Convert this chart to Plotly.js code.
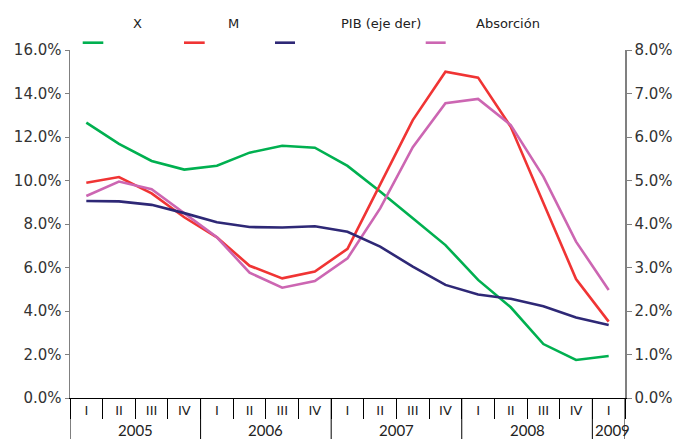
<!DOCTYPE html>
<html>
<head>
<meta charset="utf-8">
<script src="https://cdn.plot.ly/plotly-3.0.1.min.js"></script>
<style>html,body{margin:0;padding:0;background:#fff;}#chart{width:678px;height:439px;}</style>
</head>
<body>
<div id="chart"></div>
<script>
// ---- data ----
var quarters = ['I','II','III','IV','I','II','III','IV','I','II','III','IV','I','II','III','IV','I'];
var quarterYears = ['2005','2005','2005','2005','2006','2006','2006','2006','2007','2007','2007','2007','2008','2008','2008','2008','2009'];
var years = ['2005','2006','2007','2008','2009'];
var seriesX = [12.66, 11.68, 10.9, 10.5, 10.68, 11.28, 11.6, 11.51, 10.67, 9.49, 8.26, 7.03, 5.43, 4.17, 2.48, 1.75, 1.93];
var seriesM = [9.9, 10.16, 9.41, 8.31, 7.39, 6.08, 5.5, 5.81, 6.86, 9.8, 12.78, 15.0, 14.73, 12.47, 9.0, 5.47, 3.51];
var seriesPIB = [4.53, 4.52, 4.44, 4.25, 4.04, 3.93, 3.92, 3.95, 3.82, 3.48, 3.02, 2.60, 2.38, 2.28, 2.11, 1.85, 1.68];
var seriesAbs = [9.29, 9.95, 9.6, 8.49, 7.39, 5.76, 5.07, 5.38, 6.42, 8.72, 11.53, 13.55, 13.75, 12.55, 10.18, 7.19, 4.97];
var legendNames = ['X', 'M', 'PIB (eje der)', 'Absorción'];

// ---- derived ----
var cats = quarters.map(function(q, i){ return quarterYears[i] + ' ' + q; });
var colors = ['rgb(0,176,80)', 'rgb(240,52,52)', 'rgb(46,40,118)', 'rgb(204,102,178)'];

var traces = [
  {x: cats, y: seriesX, name: legendNames[0], type: 'scatter', mode: 'lines', line: {color: colors[0], width: 2.6}},
  {x: cats, y: seriesM, name: legendNames[1], type: 'scatter', mode: 'lines', line: {color: colors[1], width: 2.6}},
  {x: cats, y: seriesPIB, name: legendNames[2], type: 'scatter', mode: 'lines', yaxis: 'y2', line: {color: colors[2], width: 2.6}},
  {x: cats, y: seriesAbs, name: legendNames[3], type: 'scatter', mode: 'lines', line: {color: colors[3], width: 2.6}}
];

var yearStart = years.map(function(y){ return quarterYears.indexOf(y); });
var yearEnd = years.map(function(y){ return quarterYears.lastIndexOf(y); });

var shapes = [];
var annotations = [];
var bounds = [-0.5].concat(yearEnd.map(function(e){ return e + 0.5; }));
bounds.forEach(function(b){
  shapes.push({type: 'line', xref: 'x', yref: 'paper', x0: b, x1: b, y0: 0, y1: -0.125,
               line: {color: '#000', width: 1}});
});
years.forEach(function(y, i){
  annotations.push({xref: 'x', yref: 'paper', x: (yearStart[i] + yearEnd[i]) / 2, y: -0.092,
    xshift: (i === years.length - 1) ? 4 : 0,
    text: y, showarrow: false, xanchor: 'center', yanchor: 'middle',
    font: {family: 'Lato, DejaVu Sans, sans-serif', size: 15, color: '#222'}});
});
var legLines = [[0.0229, 0.060], [0.2054, 0.2427], [0.3694, 0.4054], [0.6409, 0.6769]];
var legText = [0.1213, 0.2942, 0.5604, 0.7883];
legendNames.forEach(function(n, i){
  shapes.push({type: 'line', xref: 'paper', yref: 'paper', x0: legLines[i][0], x1: legLines[i][1],
    y0: 1.021, y1: 1.021, line: {color: colors[i], width: 2.6}});
  annotations.push({xref: 'paper', yref: 'paper', x: legText[i], y: 1.0767, text: n, showarrow: false,
    xanchor: 'center', yanchor: 'middle', font: {family: 'DejaVu Sans, Verdana, sans-serif', size: 13, color: '#222'}});
});

var layout = {
  width: 678, height: 439,
  margin: {l: 70, r: 53, t: 50, b: 41},
  paper_bgcolor: '#fff', plot_bgcolor: '#fff',
  showlegend: false,
  font: {family: 'DejaVu Sans, Verdana, sans-serif', color: '#333'},
  xaxis: {
    type: 'category', range: [-0.5, cats.length - 0.5],
    tickmode: 'array', tickvals: cats, ticktext: quarters,
    tickson: 'boundaries', ticks: 'outside', ticklen: 20, tickcolor: '#000', tickwidth: 1,
    ticklabelstandoff: 0,
    tickfont: {family: 'DejaVu Sans, Verdana, sans-serif', size: 13, color: '#222'},
    showline: true, linecolor: '#000', linewidth: 1, showgrid: false, zeroline: false, fixedrange: true
  },
  yaxis: {
    range: [0, 16], dtick: 2, tickformat: '.1f', ticksuffix: '%',
    ticks: 'outside', ticklen: 4, tickcolor: '#808080',
    showline: true, linecolor: '#808080', linewidth: 1.5, showgrid: false, zeroline: false,
    tickfont: {family: 'DejaVu Sans, Verdana, sans-serif', size: 15, color: '#333'}
  },
  yaxis2: {
    overlaying: 'y', side: 'right', range: [0, 8], dtick: 1, tickformat: '.1f', ticksuffix: '%',
    ticks: 'outside', ticklen: 5, tickcolor: '#808080',
    showline: true, linecolor: '#808080', linewidth: 1.5, showgrid: false, zeroline: false,
    tickfont: {family: 'DejaVu Sans, Verdana, sans-serif', size: 15, color: '#333'}
  },
  shapes: shapes,
  annotations: annotations
};

Plotly.newPlot('chart', traces, layout, {displayModeBar: false, staticPlot: true});
</script>
</body>
</html>
